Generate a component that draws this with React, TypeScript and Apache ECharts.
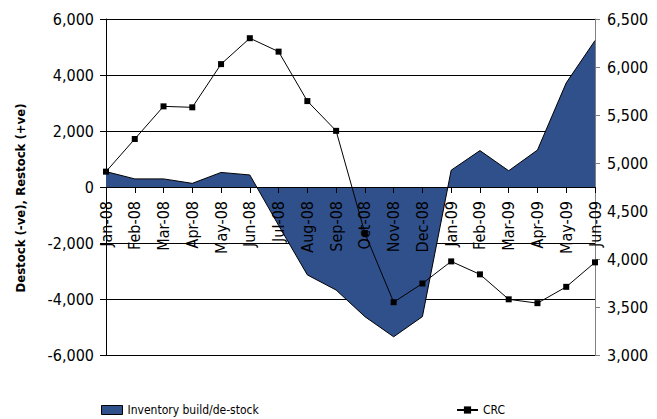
import React, { useEffect, useRef } from "react";
import * as echarts from "echarts";

// Months on the category axis
const months = [
  "Jan-08", "Feb-08", "Mar-08", "Apr-08", "May-08", "Jun-08",
  "Jul-08", "Aug-08", "Sep-08", "Oct-08", "Nov-08", "Dec-08",
  "Jan-09", "Feb-09", "Mar-09", "Apr-09", "May-09", "Jun-09",
];

// Inventory build (+) / de-stock (-), left axis
const inventory = [
  550, 290, 290, 130, 520, 430,
  -1370, -3140, -3680, -4630, -5350, -4630,
  600, 1300, 580, 1320, 3720, 5230,
];

// CRC price, right axis
const crc = [
  4910, 5250, 5590, 5580, 6030, 6300,
  6160, 5645, 5335, 4270, 3550, 3745,
  3975, 3840, 3580, 3540, 3710, 3965,
];

const leftTicks = { min: -6000, max: 6000, interval: 2000 };
const rightTicks = { min: 3000, max: 6500, interval: 500 };

const FONT = '"Liberation Sans Narrow", "Arial Narrow", "DejaVu Sans Condensed", sans-serif';
const fmt = (v: number) => v.toLocaleString("en-US");

// plot box in pixels
const GRID_TOP = 19;
const GRID_BOTTOM = 64;
const GRID_H = 419 - GRID_TOP - GRID_BOTTOM;

export default function App() {
  const ref = useRef<HTMLDivElement>(null);

  useEffect(() => {
    if (!ref.current) return;
    const chart = echarts.init(ref.current, null, { renderer: "svg" });
    // x axis sits on the zero line of the left axis
    const zeroShift = -GRID_H * (0 - leftTicks.min) / (leftTicks.max - leftTicks.min);
    const legendText = { fontFamily: FONT, fontSize: 12, lineHeight: 12, color: "#000" };
    chart.setOption({
      animation: false,
      backgroundColor: "#ffffff",
      textStyle: { fontFamily: FONT, color: "#000" },
      grid: {
        left: 106,
        right: 62,
        top: GRID_TOP,
        bottom: GRID_BOTTOM,
        containLabel: false,
        outerBoundsMode: "none",
      },
      legend: [
        {
          left: 101,
          top: 404,
          padding: 0,
          itemWidth: 21,
          itemHeight: 9,
          data: [
            {
              name: "Inventory build/de-stock",
              icon: "rect",
              itemStyle: { color: "#30508c", borderColor: "#000", borderWidth: 1 },
            },
          ],
          textStyle: legendText,
        },
        {
          left: 456,
          top: 404,
          padding: 0,
          itemWidth: 21,
          itemHeight: 9,
          data: ["CRC"],
          textStyle: legendText,
        },
      ],
      graphic: [
        {
          type: "text",
          x: 20,
          y: 198,
          rotation: Math.PI / 2,
          style: {
            text: "Destock (-ve), Restock (+ve)",
            fontFamily: FONT,
            fontSize: 13,
            fontWeight: "bold",
            fill: "#000",
            align: "center",
            verticalAlign: "middle",
          },
        },
      ],
      xAxis: {
        type: "category",
        data: months,
        boundaryGap: false,
        position: "bottom",
        offset: zeroShift,
        z: 3,
        axisLine: { onZero: false, lineStyle: { color: "#000", width: 1 } },
        axisTick: { show: true, alignWithLabel: true, length: 6, lineStyle: { color: "#000" } },
        axisLabel: {
          interval: 0,
          rotate: 90,
          margin: 14,
          fontFamily: FONT,
          fontSize: 16,
          color: "#000",
        },
        splitLine: { show: false },
      },
      yAxis: [
        {
          type: "value",
          ...leftTicks,
          position: "left",
          axisLine: { show: true, lineStyle: { color: "#000" } },
          axisTick: { show: true, length: 6, lineStyle: { color: "#000" } },
          axisLabel: { margin: 12, fontFamily: FONT, fontSize: 16, color: "#000", formatter: fmt },
          splitLine: { show: true, lineStyle: { color: "#000", width: 1 } },
        },
        {
          type: "value",
          ...rightTicks,
          position: "right",
          axisLine: { show: true, lineStyle: { color: "#808080" } },
          axisTick: { show: true, length: 5, lineStyle: { color: "#808080" } },
          axisLabel: { margin: 12, fontFamily: FONT, fontSize: 16, color: "#000", formatter: fmt },
          splitLine: { show: false },
        },
      ],
      series: [
        {
          name: "Inventory build/de-stock",
          type: "line",
          yAxisIndex: 0,
          data: inventory,
          symbol: "none",
          lineStyle: { color: "#000", width: 1 },
          itemStyle: { color: "#30508c" },
          areaStyle: { color: "#30508c", opacity: 1, origin: 0 },
          z: 1,
        },
        {
          name: "CRC",
          type: "line",
          yAxisIndex: 1,
          data: crc,
          symbol: "rect",
          symbolSize: 6,
          lineStyle: { color: "#000", width: 1 },
          itemStyle: { color: "#000" },
          z: 4,
        },
      ],
    });
    return () => chart.dispose();
  }, []);

  return <div ref={ref} style={{ width: 657, height: 419, position: "absolute", left: 0, top: 0 }} />;
}
